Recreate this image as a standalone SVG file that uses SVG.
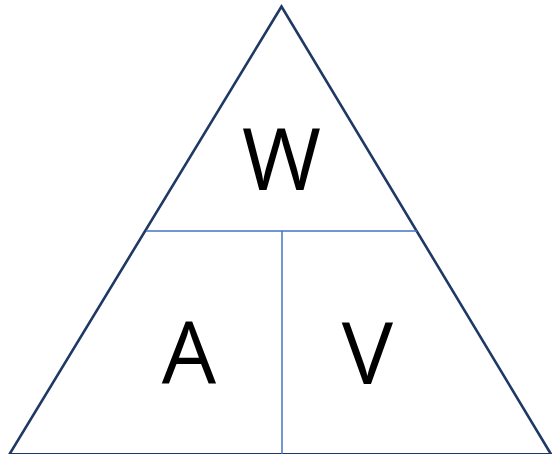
<svg xmlns="http://www.w3.org/2000/svg" width="552" height="454" viewBox="0 0 552 454">
<style>
.t{font-family:"Open Sans","Noto Sans",sans-serif;font-size:86px;fill:#000;text-anchor:middle}
.div{stroke:#4472C4;stroke-width:1.5;fill:none}
</style>
<rect width="552" height="454" fill="#fff"/>
<g id="triangle">
<polygon points="281.5,6.5 9.5,454.2 551,454.2" fill="none" stroke="#1F3864" stroke-width="2.6" stroke-linejoin="miter"/>
</g>
<g id="connectors">
<line class="div" x1="146" y1="231" x2="417" y2="231"/>
<line class="div" x1="282" y1="231" x2="282" y2="454"/>
</g>
<g id="W"><text class="t" x="281.5" y="190">W</text></g>
<g id="A"><text class="t" x="189" y="384">A</text></g>
<g id="V"><text class="t" x="367.5" y="384">V</text></g>
</svg>
